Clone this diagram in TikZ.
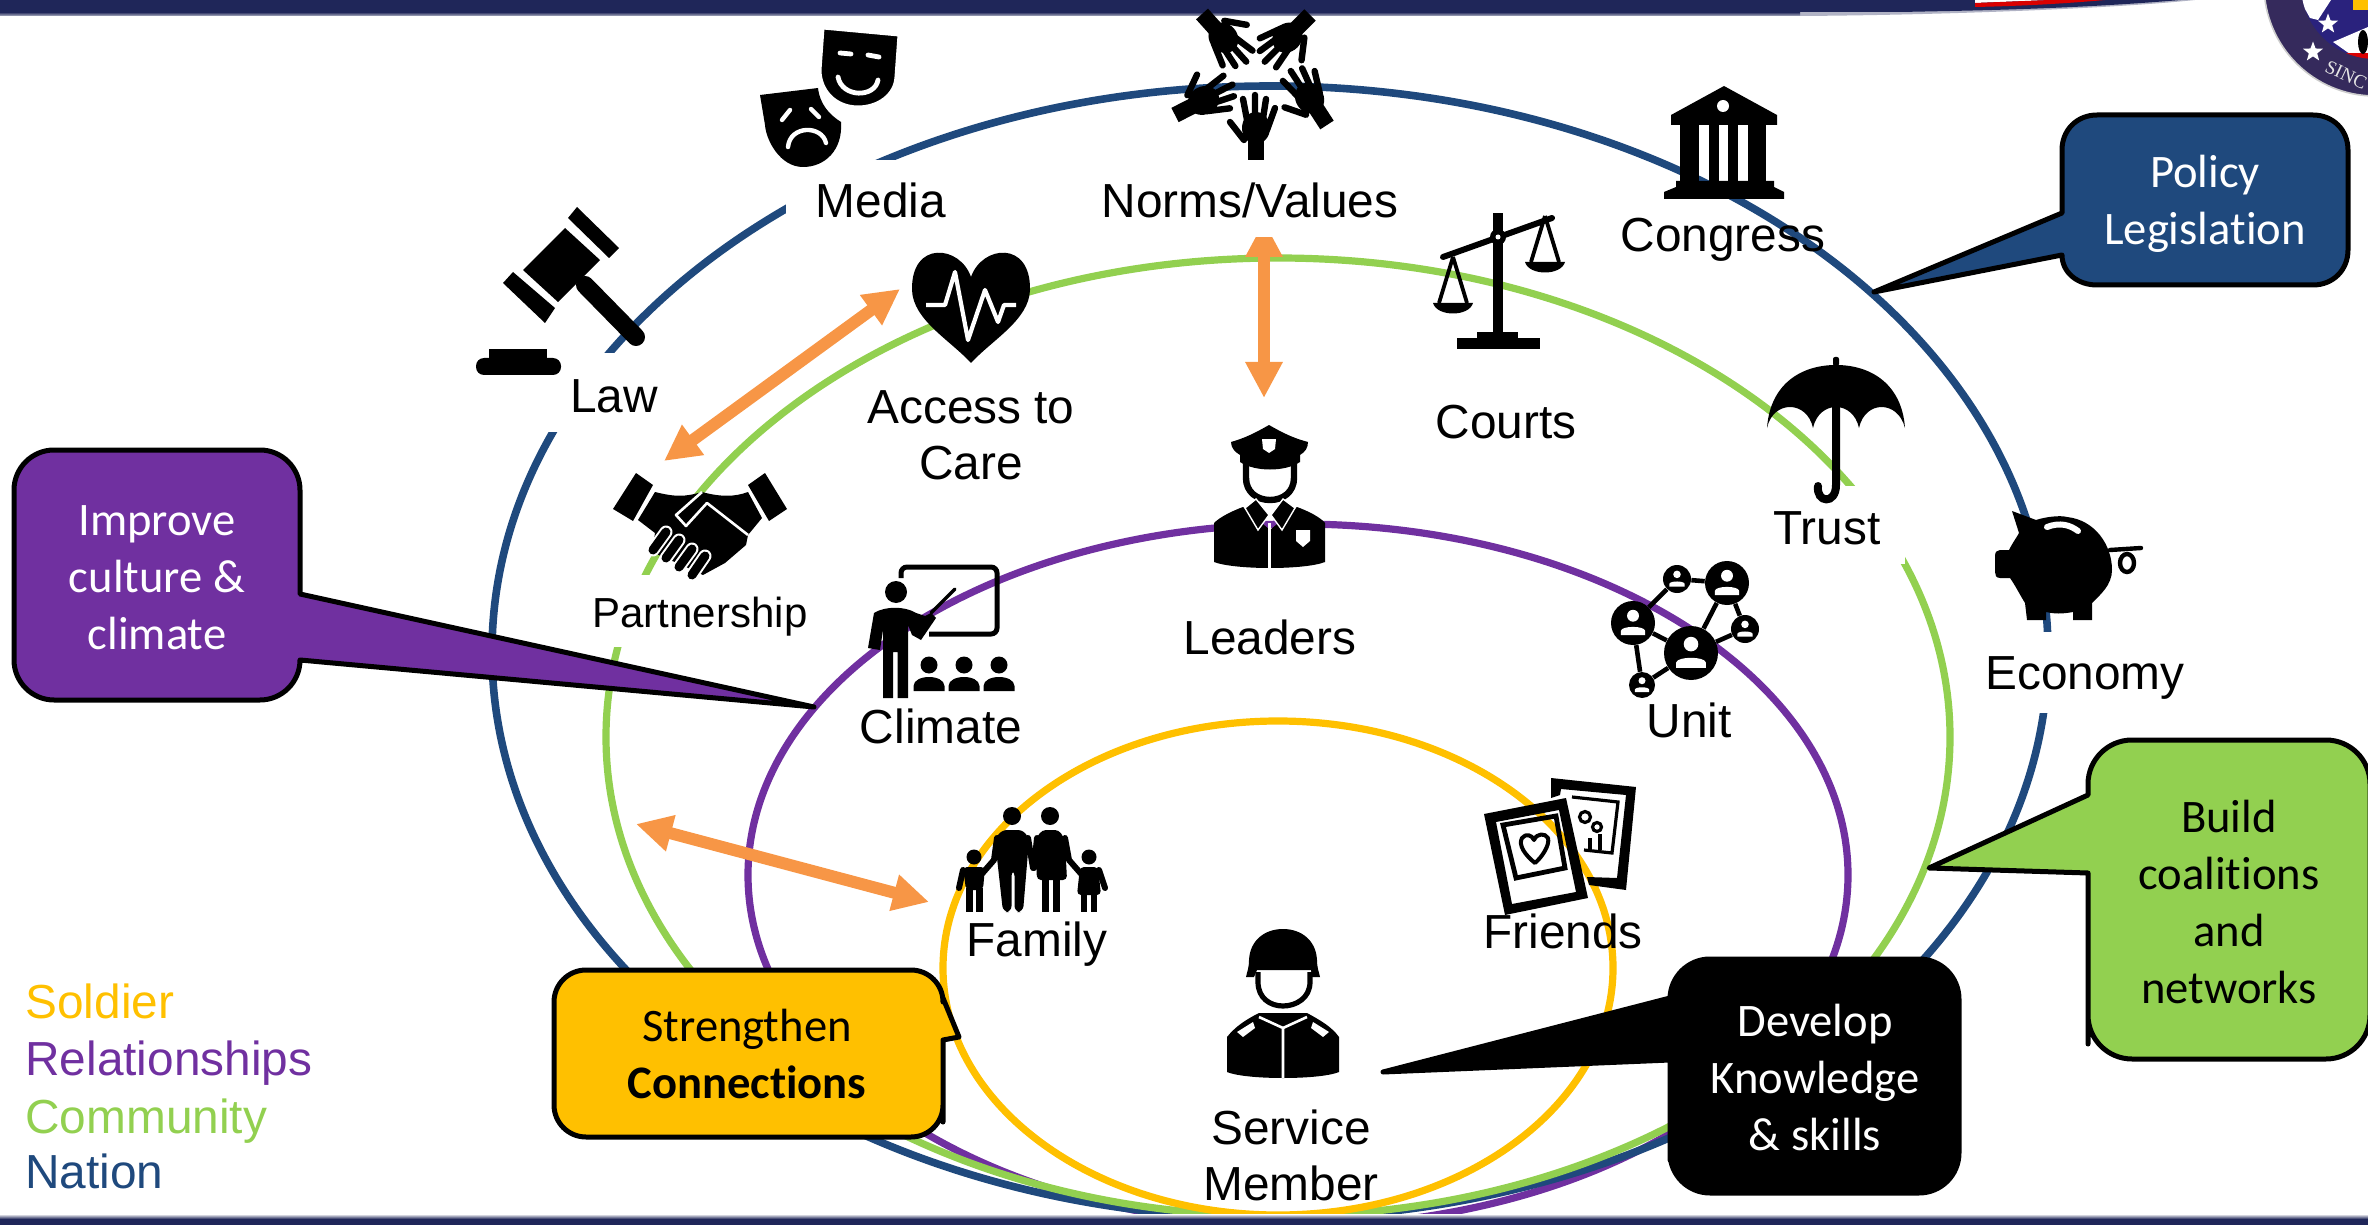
\documentclass[tikz,border=0pt]{standalone}
\usepackage{fontspec}
\setmainfont{Liberation Sans}
\newfontfamily\carlitofont[Ligatures=NoCommon]{Carlito}
\newfontfamily\sealfont{Liberation Serif}
\usetikzlibrary{arrows.meta,shapes.geometric}

\definecolor{nationblue}{HTML}{1F497D}
\definecolor{communitygreen}{HTML}{92D050}
\definecolor{relpurple}{HTML}{7030A0}
\definecolor{soldiergold}{HTML}{FFC000}
\definecolor{linkorange}{HTML}{F79646}
\definecolor{barnavy}{HTML}{1F2659}
\definecolor{sealnavy}{HTML}{352A5C}

\tikzset{
    ring/.style={line width=3.6pt},
    lbl/.style={font=\fontsize{23.9}{28}\selectfont, anchor=base, inner sep=0pt, align=center},
    legendlbl/.style={font=\fontsize{23.9}{28}\selectfont, anchor=base west, inner sep=0pt},
    bubbletxt/.style={font=\carlitofont\fontsize{23.3}{28.5}\selectfont, anchor=base, inner sep=0pt, align=center},
    bubble/.style={draw=black, line width=2.5pt, line join=round},
    twoway/.style={linkorange, line width=6pt, {Triangle[length=18pt,width=17.5pt]}-{Triangle[length=18pt,width=17.5pt]}},
    limb/.style={line width=3pt, line cap=round, line join=round},
    netdot/.style={circle, fill=black, inner sep=0pt},
    netlink/.style={line width=2.3pt},
    sealstar/.style={star, star points=5, star point ratio=2.4, fill=white, inner sep=0pt, minimum size=10.5pt},
    hand/.pic={
        \fill (-8,0) rectangle (8,-20);
        \fill (0,-32) ellipse [x radius=14, y radius=16];
        \draw[line width=3.2pt, line cap=round] (-8,-35) -- (-13,-61) (-1,-35) -- (-1,-65) (6,-35) -- (10,-61) (11,-30) -- (19,-52) (-12,-20) -- (-26,-38);
    },
}

\begin{document}
\begin{tikzpicture}[x=0.5pt, y=-0.5pt]
    \useasboundingbox (0,0) rectangle (2368,1225);
    \clip (0,0) rectangle (2368,1225);

    \draw[ring, relpurple] (1298,875) ellipse [x radius=550, y radius=351];
    \draw[ring, nationblue, line width=3.8pt] (1270,652) ellipse [x radius=778, y radius=566];
    \draw[ring, communitygreen] (1278,737) ellipse [x radius=672, y radius=479];
    \draw[ring, soldiergold] (1278,968) ellipse [x radius=335, y radius=247];

    \fill[barnavy!35] (1800,16) .. controls (1950,15) and (2120,8) .. (2195,0) -- (1800,0) -- cycle;
    \shade[top color=barnavy, bottom color=barnavy!35] (0,12) rectangle (1800,16);
    \fill[barnavy] (0,0) -- (2181,0) .. controls (2120,5) and (2050,9) .. (1950,11) -- (1900,12) -- (0,12) -- cycle;
    \fill[white] (1975,0) -- (2050,0) -- (1975,3) -- cycle;
    \fill[red!85!black] (1975,3) -- (2050,0) -- (2105,0) .. controls (2060,4) and (2020,6) .. (1975,7) -- cycle;
    \shade[top color=white, bottom color=barnavy] (0,1214) rectangle (2368,1219);
    \fill[barnavy] (0,1219) rectangle (2368,1225);

    \filldraw[fill=sealnavy, draw=black!20, line width=0.8pt] (2375,-15) circle [radius=111];
    \begin{scope}
        \clip (2375,-15) circle [radius=74];
        \fill[sealnavy!80!blue] (2290,-15) rectangle (2368,60);
        \fill[white] (2300,0) -- (2331,0) -- (2318,20) -- (2310,18) -- cycle;
        \fill[soldiergold] (2353,0) rectangle (2368,10);
        \fill[white] (2333,42) -- (2368,27) -- (2368,56) -- (2350,54) -- cycle;
        \fill[red!85!black] (2346,53) rectangle (2368,60);
        \fill[black] (2363,42) ellipse [x radius=5, y radius=12];
    \end{scope}
    \node[sealstar] (sealstarin) at (2328,24) {};
    \node[sealstar] (sealstarout) at (2313,52) {};
    \node[font=\sealfont\fontsize{9.5}{12}\selectfont, text=black!10, rotate=-25, inner sep=0pt] (sealtext) at (2346,75) {SINC};

    \fill[white] (786,160) rectangle (950,222);
    \fill[white] (540,353) rectangle (670,432);
    \fill[white] (590,575) rectangle (810,647);
    \fill[white] (1770,486) rectangle (1905,564);
    \fill[white] (1985,632) rectangle (2190,713);

    \coordinate (accesstip) at (900,289);
    \coordinate (partnertip) at (664,461);
    \coordinate (normstip) at (1264,221);
    \coordinate (leadertip) at (1264,398);
    \coordinate (communitytip) at (636,824);
    \coordinate (familytip) at (929,902);
    \draw[twoway] (accesstip) -- (partnertip);
    \draw[twoway] (normstip) -- (leadertip);
    \draw[twoway] (communitytip) -- (familytip);
    \fill[white] (1100,165) rectangle (1400,237);

    \pic[rotate=0] at (1256,160) {hand};
    \pic[rotate=33] at (1327,125) {hand};
    \pic[rotate=-63] at (1175,115) {hand};
    \pic[rotate=-138] at (1202,14) {hand};
    \pic[rotate=135] at (1310,15) {hand};

    \fill (760,95) -- (818,88) .. controls (820,105) and (830,115) .. (841,122) .. controls (843,150) and (825,167) .. (803,167) .. controls (780,167) and (766,140) .. (765,125) -- cycle;
    \filldraw[draw=white, line width=1.5pt] (823,28) -- (899,35) -- (896,77) .. controls (895,95) and (878,107) .. (858,107) .. controls (835,107) and (820,90) .. (820,70) -- cycle;
    \draw[white, line width=2.4pt, line cap=round] (840,53) -- (851,54) (868,55) -- (879,57) (838,77) .. controls (842,98) and (875,98) .. (878,80);
    \draw[white, line width=2.2pt, line cap=round] (782,120) -- (790,110) (811,109) -- (819,117) (788,147) .. controls (790,125) and (822,125) .. (826,143);

    \fill (577,207) -- (619,248) -- (609,258) -- (568,218) -- cycle;
    \fill (513,272) -- (555,308) -- (545,323) -- (503,283) -- cycle;
    \fill (565,228) -- (600,260) -- (558,302) -- (523,270) -- cycle;
    \draw[line width=9pt, line cap=round] (585,285) -- (636,337);
    \fill (489,349) rectangle (547,362);
    \fill[rounded corners=4pt] (476,358) rectangle (561,375);

    \fill (971,277) .. controls (960,245) and (911,240) .. (912,290) .. controls (913,320) and (950,340) .. (971,363) .. controls (992,340) and (1029,320) .. (1030,290) .. controls (1031,240) and (982,245) .. (971,277) -- cycle;
    \draw[white, line width=2.1pt, line join=round] (926,305) -- (945,305) -- (955,272) -- (968,340) -- (985,290) -- (998,322) -- (1004,305) -- (1016,305);

    \fill (636,473) -- (653,485) -- (633,521) -- (613,509) -- cycle;
    \fill (765,473) -- (748,485) -- (769,521) -- (787,509) -- cycle;
    \fill (655,492) .. controls (675,497) and (685,497) .. (702,492) .. controls (720,497) and (735,497) .. (748,492) -- (762,518) -- (748,535) -- (746,545) -- (725,563) -- (703,575) -- (686,567) -- (652,552) -- (655,533) -- (638,520) -- cycle;
    \draw[white, line width=1.3pt, line join=round] (702,492) -- (676,515) -- (686,526) -- (707,503) -- (748,535);
    \foreach \fx/\fy/\gx/\gy in {666/532/653/550, 679/540/666/558, 692/549/679/567, 705/556/692/575} {
        \draw[white, line width=6.5pt, line cap=round] (\fx,\fy) -- (\gx,\gy);
        \draw[black, line width=4.5pt, line cap=round] (\fx,\fy) -- (\gx,\gy);
    }

    \fill (1269,425) .. controls (1255,433) and (1245,438) .. (1231,442) .. controls (1231,448) and (1235,452) .. (1240,455) -- (1240,462) .. controls (1255,472) and (1285,472) .. (1300,462) -- (1300,455) .. controls (1305,452) and (1308,448) .. (1308,442) .. controls (1293,438) and (1283,433) .. (1269,425) -- cycle;
    \fill[white] (1262,439) -- (1276,439) -- (1275,449) -- (1269,453) -- (1263,449) -- cycle;
    \draw[line width=3.2pt] (1246,463) -- (1246,478) .. controls (1246,492) and (1257,500) .. (1270,500) .. controls (1283,500) and (1294,492) .. (1294,478) -- (1294,463);
    \fill (1214,562) -- (1214,523) .. controls (1220,517) and (1232,511) .. (1243,507) -- (1270,530) -- (1297,507) .. controls (1308,511) and (1320,517) .. (1325,523) -- (1325,562) .. controls (1305,570) and (1235,570) .. (1214,562) -- cycle;
    \filldraw[draw=white, line width=0.7pt] (1256,499) -- (1269,515) -- (1258,530) -- (1245,508) -- cycle;
    \filldraw[draw=white, line width=0.7pt] (1283,499) -- (1271,515) -- (1282,530) -- (1295,508) -- cycle;
    \draw[white, line width=1.5pt] (1269.5,523) -- (1269.5,572);
    \fill[white] (1296,530) -- (1310,530) -- (1310,541) -- (1303,547) -- (1296,541) -- cycle;

    \draw[line width=2.5pt, rounded corners=3pt] (901,578) -- (901,567) -- (997,567) -- (997,634) -- (929,634);
    \fill (896,592) circle [radius=11];
    \fill (874,613) .. controls (885,606) and (905,606) .. (916,613) -- (925,616) -- (931,613) -- (936,618) -- (921,640) -- (912,635) -- (908,625) -- (908,698) -- (897.5,698) -- (897.5,652) -- (893,652) -- (893,698) -- (883,698) -- (883,630) -- (880,650) -- (868,648) -- cycle;
    \draw[line width=1.6pt, line cap=round] (931,613) -- (955,589);
    \foreach \sx in {929,964,999} {
        \fill (\sx,665) circle [radius=8.5];
        \fill ({\sx-15.5},691) -- ({\sx-15.5},686) .. controls ({\sx-15},674) and ({\sx+15},674) .. ({\sx+15.5},686) -- ({\sx+15.5},691) -- cycle;
    }

    \foreach \sc/\sh in {1453/257, 1545/216} {
        \draw[line width=1.9pt] (\sc,\sh) -- ({\sc-14},{\sh+46}) (\sc,\sh) -- ({\sc+14},{\sh+46});
        \fill ({\sc-20},{\sh+46}) -- ({\sc+20},{\sh+46}) .. controls ({\sc+16},{\sh+60}) and ({\sc-16},{\sh+60}) .. ({\sc-20},{\sh+46}) -- cycle;
    }
    \fill (1493,213) rectangle (1503,340);
    \draw[line width=3pt, line cap=round] (1443,257) -- (1552,218);
    \fill (1498,237) circle [radius=8];
    \fill[white] (1498,237) circle [radius=2.5];
    \fill (1477,332) rectangle (1518,340);
    \fill (1457,338) rectangle (1540,349);

    \fill (1724,86) -- (1671,115) -- (1671,125) -- (1777,125) -- (1777,115) -- cycle;
    \fill[white] (1723,106) circle [radius=6];
    \foreach \cola/\colb in {1680/1699, 1709/1719, 1728/1738, 1748/1766} {
        \fill (\cola,125) rectangle (\colb,181);
    }
    \fill (1676,181) -- (1774,181) -- (1774,187) -- (1784,192) -- (1784,199) -- (1664,199) -- (1664,192) -- (1676,187) -- cycle;

    \fill[rounded corners=1pt] (1833,357) rectangle (1839,366);
    \fill (1767,428) .. controls (1770,385) and (1800,365) .. (1836,365) .. controls (1872,365) and (1902,385) .. (1905,428) .. controls (1898,400) and (1865,400) .. (1859,428) .. controls (1853,400) and (1819,400) .. (1813,428) .. controls (1807,400) and (1773,400) .. (1767,428) -- cycle;
    \draw[line width=4pt, line cap=round] (1836,400) -- (1836,485) .. controls (1836,505) and (1816,503) .. (1818,486);

    \fill (2012,511) -- (2036,520) .. controls (2045,517) and (2060,515) .. (2067,517) .. controls (2095,520) and (2112,545) .. (2112,570) .. controls (2112,585) and (2100,595) .. (2092,603) -- (2092,620) -- (2073,620) -- (2073,612) .. controls (2062,614) and (2055,614) .. (2046,612) -- (2046,620) -- (2027,620) -- (2025,603) .. controls (2020,595) and (2015,585) .. (2010,578) -- (2000,578) .. controls (1996,578) and (1995,575) .. (1995,572) -- (1995,556) .. controls (1995,552) and (1997,550) .. (2000,550) -- (2009,550) .. controls (2013,542) and (2017,537) .. (2019,533) -- cycle;
    \draw[white, line width=3pt, line cap=round] (2047,527) .. controls (2060,522) and (2070,525) .. (2078,531);
    \draw[line width=2.2pt, line cap=round] (2110,550) -- (2141,548);
    \draw[line width=2.2pt] (2127,563) ellipse [x radius=7, y radius=9];

    \foreach \nname/\nx/\ny/\nr in {netb/1677/579/14, netc/1727/583/22, netd/1745/629/14, nete/1691/653/27, neta/1633/623/22, netf/1642/685/13} {
        \node[netdot, minimum size=\nr pt] (\nname) at (\nx,\ny) {};
        \fill[white] (\nx,{\ny-0.33*\nr}) circle [radius={0.27*\nr}];
        \fill[white] ({\nx-0.55*\nr},{\ny+0.55*\nr}) -- ({\nx-0.55*\nr},{\ny+0.35*\nr}) .. controls ({\nx-0.5*\nr},{\ny+0.12*\nr}) and ({\nx+0.5*\nr},{\ny+0.12*\nr}) .. ({\nx+0.55*\nr},{\ny+0.35*\nr}) -- ({\nx+0.55*\nr},{\ny+0.55*\nr}) -- cycle;
    }
    \draw[netlink] (neta) -- (netb);
    \draw[netlink] (netb) -- (netc);
    \draw[netlink] (netc) -- (nete);
    \draw[netlink] (netc) -- (netd);
    \draw[netlink] (netd) -- (nete);
    \draw[netlink] (neta) -- (nete);
    \draw[netlink] (neta) -- (netf);
    \draw[netlink] (netf) -- (nete);

    \fill (1012,816) circle [radius=9];
    \fill (1050,816) circle [radius=9];
    \fill (974,857) circle [radius=7.5];
    \fill (1089,857) circle [radius=7.5];
    \fill[rounded corners=3pt] (995,840) -- (1001,830) -- (1024,830) -- (1029,840) -- (1023,912) -- (1014.5,912) -- (1014.5,870) -- (1011.5,870) -- (1011.5,912) -- (1003,912) -- cycle;
    \fill[rounded corners=2pt] (1035,840) -- (1042,830) -- (1059,830) -- (1065,840) -- (1067,880) -- (1037,880) -- cycle;
    \fill (1042,880) rectangle (1049,912);
    \fill (1053,880) rectangle (1060,912);
    \fill[rounded corners=2pt] (963,867) -- (985,867) -- (983,890) -- (966,890) -- cycle;
    \fill (966,888) rectangle (973,912);
    \fill (976,888) rectangle (983,912);
    \fill[rounded corners=2pt] (1080,867) -- (1098,867) -- (1101,895) -- (1077,895) -- cycle;
    \fill (1081,893) rectangle (1087,912);
    \fill (1091,893) rectangle (1097,912);
    \draw[limb] (997,838) -- (994,860) -- (980,876);
    \draw[limb] (1028,838) -- (1033,868);
    \draw[limb] (1037,838) -- (1034,868);
    \draw[limb] (1065,838) -- (1069,860) -- (1083,876);
    \draw[limb] (963,870) -- (959,888);
    \draw[limb] (1099,870) -- (1105,888);

    \fill[even odd rule] (1551,778) -- (1636,787) -- (1626,890) -- (1589,885) -- (1587,877) -- (1617,878) -- (1626,795) -- (1561,789) -- (1560,795) -- (1551,798) -- cycle;
    \draw[line width=1.6pt] (1572,797) -- (1618,802) -- (1612,853) -- (1584,850);
    \draw[line width=1.6pt] (1585,817) circle [radius=5.5];
    \draw[line width=1.6pt] (1597,827) circle [radius=4.5];
    \draw[line width=1.8pt] (1590,850) -- (1590,838) (1600,850) -- (1600,834);
    \fill[even odd rule] (1484,814) -- (1566,798) -- (1588,898) -- (1505,915) -- cycle (1496,822) -- (1559,810) -- (1576,892) -- (1512,904) -- cycle;
    \draw[line width=2.4pt] (1503,825) -- (1556,816) -- (1565,868) -- (1516,878) -- cycle;
    \draw[line width=2pt, line join=round] (1535,863) .. controls (1525,855) and (1518,845) .. (1522,838) .. controls (1526,833) and (1532,835) .. (1534,840) .. controls (1537,833) and (1545,833) .. (1548,838) .. controls (1550,845) and (1542,857) .. (1535,863) -- cycle;

    \fill (1227,1037) .. controls (1235,1027) and (1245,1020) .. (1259,1013) -- (1307,1013) .. controls (1320,1020) and (1332,1027) .. (1339,1037) -- (1339,1072) .. controls (1320,1080) and (1246,1080) .. (1227,1072) -- cycle;
    \draw[white, line width=1.3pt] (1283,1028) -- (1283,1078) (1259,1017) -- (1283,1028) -- (1307,1017);
    \fill[white] (1253,1022) -- (1237,1032) -- (1243,1037) -- (1255,1028) -- cycle;
    \fill[white] (1313,1022) -- (1329,1032) -- (1323,1037) -- (1311,1028) -- cycle;
    \draw[line width=2.6pt, fill=white] (1258,972) -- (1258,982) .. controls (1258,998) and (1270,1006) .. (1283,1006) .. controls (1296,1006) and (1310,998) .. (1310,982) -- (1310,972);
    \fill (1246,977) .. controls (1247,972) and (1249,968) .. (1249,960) .. controls (1250,940) and (1265,929) .. (1283,929) .. controls (1301,929) and (1316,940) .. (1317,960) .. controls (1317,968) and (1319,972) .. (1320,977) -- (1312,977) -- (1311,970) -- (1257,970) -- (1254,977) -- cycle;

    \node[legendlbl, text=soldiergold] (legendsoldier) at (25,1018) {Soldier};
    \node[legendlbl, text=relpurple] (legendrel) at (25,1075) {Relationships};
    \node[legendlbl, text=communitygreen] (legendcommunity) at (25,1133) {Community};
    \node[legendlbl, text=nationblue] (legendnation) at (25,1188) {Nation};

    \node[lbl] (media) at (881,218) {Media};
    \node[lbl] (law) at (614,413) {Law};
    \node[lbl] (norms) at (1250,218) {Norms/Values};
    \node[lbl] (congress) at (1723,252) {Congress};
    \node[lbl] (access) at (971,479) {Access to\\Care};
    \node[lbl] (courts) at (1506,438) {Courts};
    \node[lbl] (trust) at (1827,544) {Trust};
    \node[lbl] (economy) at (2085,689) {Economy};
    \node[lbl, font=\fontsize{21}{25}\selectfont] (partnership) at (700,627) {Partnership};
    \node[lbl] (leaders) at (1270,654) {Leaders};
    \node[lbl] (climate) at (941,743) {Climate};
    \node[lbl] (unit) at (1689,737) {Unit};
    \node[lbl] (family) at (1037,956) {Family};
    \node[lbl] (friends) at (1563,948) {Friends};
    \node[lbl] (member) at (1291,1200) {Service\\Member};

    \draw[bubble, fill=nationblue] (2062,213) -- (2062,150) .. controls (2062,130) and (2077,115) .. (2097,115) -- (2313,115) .. controls (2333,115) and (2348,130) .. (2348,150) -- (2348,250) .. controls (2348,270) and (2333,285) .. (2313,285) -- (2097,285) .. controls (2077,285) and (2062,272) .. (2062,255) -- (1874,292) -- cycle;
    \node[bubbletxt, text=white] (policy) at (2205,245) {Policy\\Legislation};

    \draw[bubble, fill=relpurple] (300,594) -- (300,490) .. controls (300,468) and (282,450) .. (260,450) -- (54,450) .. controls (32,450) and (14,468) .. (14,490) -- (14,660) .. controls (14,682) and (32,700) .. (54,700) -- (260,700) .. controls (282,700) and (300,682) .. (300,660) -- (814,707) -- cycle;
    \node[bubbletxt, text=white] (improve) at (157,649) {Improve\\culture \&\\climate};

    \draw[bubble, fill=soldiergold] (943,998) [rounded corners=16pt] -- (943,970) -- (554,970) -- (554,1137) -- (943,1137) -- (943,1090) [sharp corners] -- (943,1040) -- (959,1037) -- cycle;
    \node[bubbletxt] (strengthen) at (747,1098) {Strengthen\\\textbf{Connections}};

    \draw[bubble, fill=communitygreen] (2088,795) [rounded corners=22pt] -- (2088,740) -- (2370,740) -- (2370,1059) -- (2088,1059) -- (2088,1000) [sharp corners] -- (2088,873) -- (1929,868) -- cycle;
    \node[bubbletxt] (build) at (2229,1003) {Build\\coalitions\\and\\networks};

    \draw[bubble, fill=black] (1670,998) [rounded corners=20pt] -- (1670,959) -- (1959,959) -- (1959,1193) -- (1670,1193) -- (1670,1120) [sharp corners] -- (1670,1060) -- (1383,1072) -- cycle;
    \node[bubbletxt, text=white] (develop) at (1815,1150) {Develop\\Knowledge\\\& skills};
\end{tikzpicture}
\end{document}
